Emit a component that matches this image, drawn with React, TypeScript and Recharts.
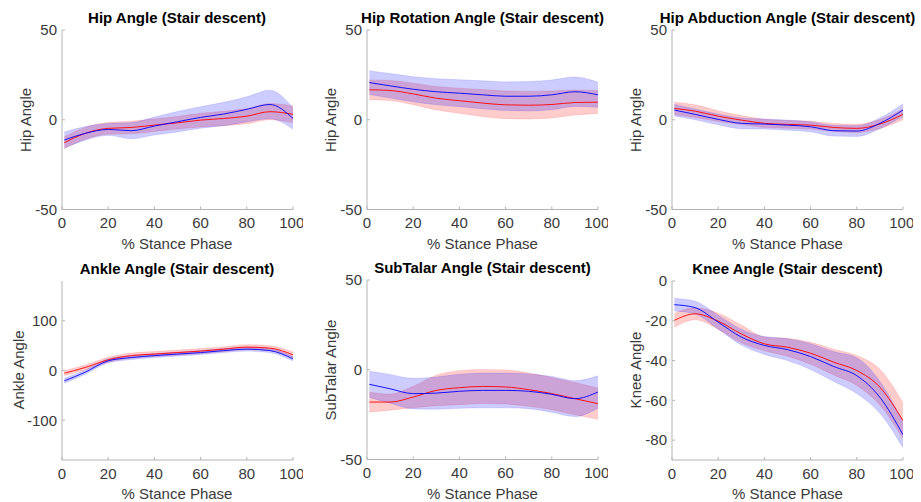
import {
  Area,
  ComposedChart,
  Line,
  XAxis,
  YAxis,
} from "recharts";

// stance phase samples (%)
const STANCE = [1, 10, 20, 30, 40, 50, 60, 70, 80, 90, 100];
const X_TICKS = [0, 20, 40, 60, 80, 100];

const hipRedMean = [-12.8, -7.6, -4.8, -4.3, -3, -1.7, -0.2, 0.7, 2, 4.5, 3];
const hipRedSd = [3.3, 3.3, 3.3, 3.5, 3.5, 3.5, 3.8, 4, 4.2, 4.5, 4.6];
const hipBlueMean = [-11.3, -7.6, -5.4, -6.1, -3.5, -1.1, 1.3, 3.2, 5.8, 8.5, 0.7];
const hipBlueSd = [4.5, 3.8, 3.3, 4.5, 5, 5.7, 6, 6.5, 7, 8, 6];

const rotRedMean = [16.7, 16.3, 14.4, 12, 10.6, 9.3, 8.3, 8.1, 8.5, 9.6, 9.8];
const rotRedSd = [5.5, 5.6, 6, 6.5, 7, 7.5, 7.7, 7.7, 7.5, 7, 6.3];
const rotBlueMean = [20.7, 18.9, 17, 15.6, 14.8, 13.9, 13.1, 13.1, 13.9, 15.6, 13.9];
const rotBlueSd = [6.6, 6.8, 7, 7.3, 7.5, 7.8, 8, 8.2, 8.3, 8.2, 7];

const abdRedMean = [6.3, 4.8, 2, -0.2, -2, -2.6, -3, -4.3, -4.8, -2.4, 3];
const abdRedSd = [3.5, 3.5, 3, 2.5, 2.3, 2.2, 2.2, 2.2, 2.3, 2.5, 3];
const abdBlueMean = [5.4, 3, 0.2, -2, -2.4, -3, -3.9, -6.1, -6.3, -2, 5.4];
const abdBlueSd = [3.3, 3, 3, 3, 2.8, 2.8, 2.8, 3, 3, 3, 3.5];

const ankleRedMean = [-5.4, 6, 21.5, 30, 33, 36, 39, 43, 47, 45, 31.5];
const ankleRedSd = [5, 5, 5, 5, 5, 5, 5, 5, 5, 5, 6];
const ankleBlueMean = [-20.8, -3.5, 19.5, 26, 30, 33, 36, 40, 43, 40, 23.5];
const ankleBlueSd = [5, 4, 4, 4, 4, 4, 4, 4, 4, 4, 4.5];

const subRedMean = [-18, -18, -15.2, -11.5, -10, -9.3, -9.6, -11.1, -13.3, -16.1, -18.9];
const subRedSd = [5.5, 4.5, 6, 8.5, 9.5, 9.5, 9.5, 9.3, 9, 9, 8.7];
const subBlueMean = [-8.1, -10.6, -13.3, -13, -12, -11.5, -11.5, -12, -13.7, -16.1, -12.4];
const subBlueSd = [7.3, 8, 8.5, 9, 9.5, 9.7, 9.7, 9.7, 10, 10, 9];

const kneeRedMean = [-19.8, -16.5, -20.2, -26.6, -31.6, -33.3, -36.3, -40.8, -45, -53.4, -70.2];
const kneeRedSd = [3.5, 3, 4, 4.5, 3.5, 4.5, 5.5, 6.5, 7.5, 9, 9];
const kneeBlueMean = [-11.9, -13.4, -20.7, -28.2, -32.4, -34.5, -38, -43, -47.6, -58.5, -77.3];
const kneeBlueSd = [3.2, 3.2, 3.5, 4, 4.5, 5.5, 6.5, 7.5, 9, 8, 6.5];

function buildRows(rm: number[], rs: number[], bm: number[], bs: number[]) {
  return STANCE.map((x, i) => ({
    x,
    redMean: rm[i],
    redBand: [rm[i] - rs[i], rm[i] + rs[i]],
    blueMean: bm[i],
    blueBand: [bm[i] - bs[i], bm[i] + bs[i]],
  }));
}

const PANELS = [
  {
    title: "Hip Angle (Stair descent)",
    yLabel: "Hip Angle",
    domain: [-50, 50],
    yTicks: [-50, 0, 50],
    rows: buildRows(hipRedMean, hipRedSd, hipBlueMean, hipBlueSd),
    box: { x: 61.5, y: 30, w: 231, h: 179.5 },
    yLabelX: 25,
  },
  {
    title: "Hip Rotation Angle (Stair descent)",
    yLabel: "Hip Angle",
    domain: [-50, 50],
    yTicks: [-50, 0, 50],
    rows: buildRows(rotRedMean, rotRedSd, rotBlueMean, rotBlueSd),
    box: { x: 367, y: 30, w: 231, h: 179.5 },
    yLabelX: 330,
  },
  {
    title: "Hip Abduction Angle (Stair descent)",
    yLabel: "Hip Angle",
    domain: [-50, 50],
    yTicks: [-50, 0, 50],
    rows: buildRows(abdRedMean, abdRedSd, abdBlueMean, abdBlueSd),
    box: { x: 672, y: 30, w: 231, h: 179.5 },
    yLabelX: 635,
  },
  {
    title: "Ankle Angle (Stair descent)",
    yLabel: "Ankle Angle",
    domain: [-180, 180],
    yTicks: [-100, 0, 100],
    rows: buildRows(ankleRedMean, ankleRedSd, ankleBlueMean, ankleBlueSd),
    box: { x: 61.5, y: 280.5, w: 231, h: 179 },
    yLabelX: 18,
  },
  {
    title: "SubTalar Angle (Stair descent)",
    yLabel: "SubTalar Angle",
    domain: [-50, 50],
    yTicks: [-50, 0, 50],
    rows: buildRows(subRedMean, subRedSd, subBlueMean, subBlueSd),
    box: { x: 367, y: 280, w: 231, h: 179.5 },
    yLabelX: 330,
  },
  {
    title: "Knee Angle (Stair descent)",
    yLabel: "Knee Angle",
    domain: [-90, 0],
    yTicks: [-80, -60, -40, -20, 0],
    rows: buildRows(kneeRedMean, kneeRedSd, kneeBlueMean, kneeBlueSd),
    box: { x: 672, y: 280.5, w: 231, h: 179 },
    yLabelX: 635,
  },
];

const AXIS = "#b4b4b4";
const TEXT = "#3a3a3a";
const FONT = "'Liberation Sans', Arial, sans-serif";
const PAD_L = 60;
const PAD_T = 10;
const PAD_R = 10;
const PAD_B = 40;

const tickStyle = { fill: TEXT, fontSize: 15 };
const blank = () => "";

function Panel({ p }: { p: (typeof PANELS)[number] }) {
  const { x, y, w, h } = p.box;
  return (
    <>
      <div style={{ position: "absolute", left: x - PAD_L, top: y - PAD_T }}>
        <ComposedChart
          width={w + PAD_L + PAD_R}
          height={h + PAD_T + PAD_B}
          data={p.rows}
          margin={{ top: PAD_T, right: PAD_R, bottom: 0, left: 0 }}
        >
          <XAxis
            type="number"
            dataKey="x"
            domain={[0, 100]}
            ticks={X_TICKS}
            allowDataOverflow
            height={PAD_B}
            stroke={AXIS}
            tickSize={-3}
            tickMargin={11}
            tick={tickStyle}
          />
          <XAxis
            xAxisId="top"
            orientation="top"
            type="number"
            dataKey="x"
            domain={[0, 100]}
            ticks={X_TICKS}
            height={0}
            stroke={AXIS}
            tickSize={-3}
            tickFormatter={blank}
          />
          <YAxis
            type="number"
            domain={p.domain}
            ticks={p.yTicks}
            allowDataOverflow
            width={PAD_L}
            stroke={AXIS}
            tickSize={-3}
            tickMargin={8}
            tick={tickStyle}
          />
          <YAxis
            yAxisId="right"
            orientation="right"
            type="number"
            domain={p.domain}
            ticks={p.yTicks}
            width={0}
            stroke={AXIS}
            tickSize={-3}
            tickFormatter={blank}
          />
          <Area
            type="monotone"
            dataKey="redBand"
            fill="#ff0000"
            fillOpacity={0.2}
            stroke="#ff0000"
            strokeOpacity={0.15}
            strokeWidth={0.8}
            isAnimationActive={false}
          />
          <Line
            type="monotone"
            dataKey="redMean"
            stroke="#ff0000"
            strokeWidth={0.9}
            dot={false}
            isAnimationActive={false}
          />
          <Area
            type="monotone"
            dataKey="blueBand"
            fill="#0000ff"
            fillOpacity={0.2}
            stroke="#0000ff"
            strokeOpacity={0.15}
            strokeWidth={0.8}
            isAnimationActive={false}
          />
          <Line
            type="monotone"
            dataKey="blueMean"
            stroke="#0000ff"
            strokeWidth={0.9}
            dot={false}
            isAnimationActive={false}
          />
        </ComposedChart>
      </div>
      <div
        style={{
          position: "absolute",
          left: x + w / 2,
          top: y - 21,
          transform: "translateX(-50%)",
          fontWeight: "bold",
          fontSize: 15,
          color: "#000",
          whiteSpace: "nowrap",
          lineHeight: "17px",
        }}
      >
        {p.title}
      </div>
      <div
        style={{
          position: "absolute",
          left: x + w / 2,
          top: y + h + 25,
          transform: "translateX(-50%)",
          fontSize: 15,
          color: TEXT,
          whiteSpace: "nowrap",
          lineHeight: "17px",
        }}
      >
        % Stance Phase
      </div>
      <div
        style={{
          position: "absolute",
          left: p.yLabelX,
          top: y + h / 2,
          transform: "translate(-50%, -50%) rotate(-90deg)",
          fontSize: 15,
          color: TEXT,
          lineHeight: "17px",
          whiteSpace: "nowrap",
        }}
      >
        {p.yLabel}
      </div>
    </>
  );
}

export default function App() {
  return (
    <div
      style={{
        position: "absolute",
        left: 0,
        top: 0,
        width: 921,
        height: 502,
        background: "#fff",
        fontFamily: FONT,
        overflow: "hidden",
      }}
    >
      {PANELS.map((p) => (
        <Panel key={p.title} p={p} />
      ))}
    </div>
  );
}
